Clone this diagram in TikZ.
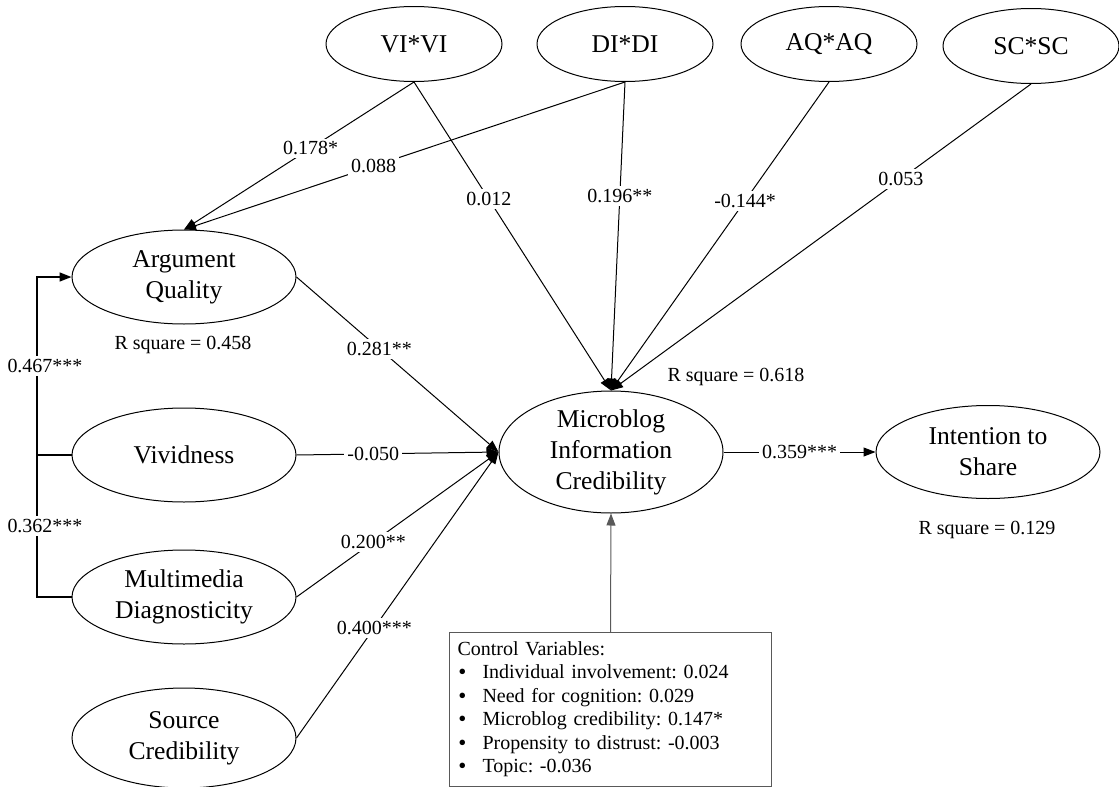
\documentclass[tikz,border=0pt]{standalone}
\usepackage{fontspec}
\setmainfont{Liberation Serif}
\usetikzlibrary{shapes.geometric,arrows.meta}
\frenchspacing
\newcommand{\ctrlitem}{\makebox[12.5pt][l]{\hspace{0.4pt}\raisebox{-0.5pt}{\scalebox{1.15}{\textbullet}}}}

\begin{document}
\begin{tikzpicture}[x=0.5pt,y=-0.5pt,>={Triangle[length=6pt,width=4.5pt]},
	latent/.style={ellipse,draw,line width=0.5pt,inner sep=0pt,minimum width=112pt,minimum height=47pt,align=center,font=\fontsize{12.8}{15.5}\selectfont},
	inter/.style={latent,minimum width=88pt,minimum height=37.5pt},
	coef/.style={fill=white,inner sep=1.5pt,font=\fontsize{10}{12}\selectfont},
	rsq/.style={font=\fontsize{10}{12}\selectfont},
	ctrlbox/.style={draw=black!65,line width=0.5pt,anchor=north west,align=left,text width=153pt,inner xsep=4pt,inner ysep=4.6pt,font=\fontsize{10}{11.7}\selectfont},
	effect/.style={->,line width=0.5pt}]
	\useasboundingbox (0,0) rectangle (1119,787);
	% interaction terms
	\node[inter] (vivi) at (414,44) {VI*VI};
	\node[inter] (didi) at (625,44) {DI*DI};
	\node[inter] (aqaq) at (829,44) {AQ*AQ};
	\node[inter] (scsc) at (1031,46) {SC*SC};
	% constructs
	\node[latent] (aq) at (184,277) {Argument\\Quality};
	\node[latent] (viv) at (184,455) {Vividness};
	\node[latent] (md) at (184,597) {Multimedia\\Diagnosticity};
	\node[latent,minimum height=50pt] (sc) at (184,738) {Source\\Credibility};
	\node[latent,minimum height=61pt] (mic) at (611,452) {Microblog\\Information\\Credibility};
	\node[latent,minimum height=46.5pt] (its) at (988,452) {Intention to\\Share};
	\node[ctrlbox] (ctrl) at (449,632) {Control Variables:\\
		\ctrlitem Individual involvement: 0.024\\
		\ctrlitem Need for cognition: 0.029\\
		\ctrlitem Microblog credibility: 0.147*\\
		\ctrlitem Propensity to distrust: -0.003\\
		\ctrlitem Topic: -0.036};
	% R square
	\node[rsq] (rsqaq) at (183,345) {R square = 0.458};
	\node[rsq] (rsqmic) at (736,377) {R square = 0.618};
	\node[rsq] (rsqits) at (987,530) {R square = 0.129};
	% paths into argument quality
	\draw[effect] (vivi.south) -- node[coef,pos=0.45]{0.178*} (aq.north);
	\draw[effect] (didi.south) -- node[coef,pos=0.57]{0.088} (aq.north);
	% paths into credibility
	\foreach \src/\val/\p in {vivi/0.012/0.38,didi/0.196**/0.37,aqaq/-0.144*/0.385,scsc/0.053/0.31}{
		\draw[effect] (\src.south) -- node[coef,pos=\p]{\val} (mic.north);
	}
	\foreach \src/\val/\p in {aq/0.281**/0.41,viv/-0.050/0.38,md/0.200**/0.38,sc/0.400***/0.385}{
		\draw[effect] (\src.east) -- node[coef,pos=\p]{\val} (mic.west);
	}
	\draw[effect] (mic.east) -- node[coef]{0.359***} (its.west);
	\draw[effect,draw=black!65] (ctrl.north) -- (mic.south);
	% bracket on the left
	\coordinate (bus) at (37,0);
	\draw[line width=0.8pt] (md.west) -- (md.west -| bus) -- node[coef,xshift=4pt]{0.362***} (viv.west -| bus);
	\draw[effect,line width=0.8pt] (viv.west -| bus) -- node[coef,xshift=4pt]{0.467***} (aq.west -| bus) -- (aq.west);
	\draw[line width=0.8pt] (viv.west) -- (viv.west -| bus);
\end{tikzpicture}
\end{document}
